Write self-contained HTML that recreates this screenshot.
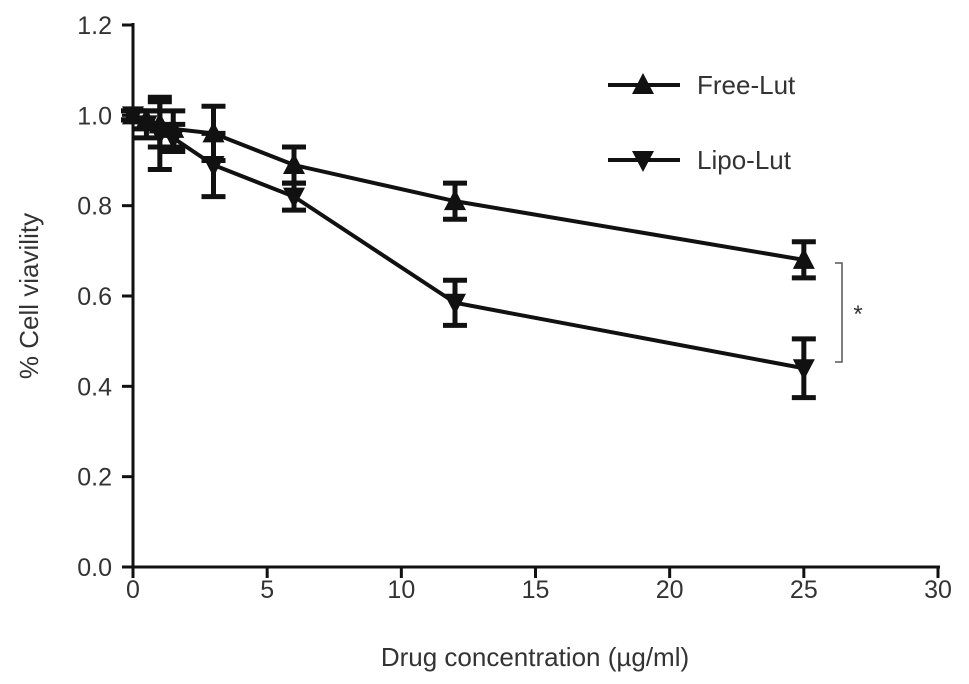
<!DOCTYPE html>
<html><head><meta charset="utf-8"><style>
body{margin:0;background:#fff}
svg{display:block}
text{font-family:"Liberation Sans",Arial,sans-serif;fill:#333}
</style></head><body>
<svg id="chart" width="969" height="684" xmlns="http://www.w3.org/2000/svg"></svg>
<script>
const xValues=[0,0.5,1,1.5,3,6,12,25];
const freeMean=[1.0,0.99,0.98,0.97,0.96,0.89,0.81,0.68];
const freeErr=[0.01,0.02,0.05,0.04,0.06,0.04,0.04,0.04];
const lipoMean=[1.0,0.98,0.96,0.95,0.89,0.82,0.585,0.44];
const lipoErr=[0.01,0.03,0.08,0.03,0.07,0.03,0.05,0.065];
const xTicks=[0,5,10,15,20,25,30];
const yTicks=[0,0.2,0.4,0.6,0.8,1.0,1.2];

const svg=document.getElementById('chart');
const NS='http://www.w3.org/2000/svg';
const X=v=>133+v*(938-133)/30;
const Y=v=>567-v*(567-25)/1.2;
function mk(tag,attrs,parent){const e=document.createElementNS(NS,tag);for(const k in attrs)e.setAttribute(k,attrs[k]);(parent||svg).appendChild(e);return e;}

const axes=mk('g',{});


const xa=mk('line',{x1:133,y1:567,x2:940,y2:567,stroke:'#111','stroke-width':3},axes);


const ya=mk('line',{x1:133,y1:23,x2:133,y2:569,stroke:'#111','stroke-width':3},axes);


xTicks.forEach(t=>{
  mk('line',{x1:X(t),y1:567,x2:X(t),y2:578,stroke:'#111','stroke-width':3},axes);
  const tx=mk('text',{x:X(t),y:598,'text-anchor':'middle','font-size':25},axes);
  tx.textContent=t;
  
  
});
yTicks.forEach(t=>{
  mk('line',{x1:122,y1:Y(t),x2:133,y2:Y(t),stroke:'#111','stroke-width':3},axes);
  const tx=mk('text',{x:112,y:Y(t)+9,'text-anchor':'end','font-size':25},axes);
  tx.textContent=t.toFixed(1);
  
  
});
const xt=mk('text',{x:535,y:666,'text-anchor':'middle','font-size':26});
xt.textContent='Drug concentration (µg/ml)';


const yt=mk('text',{x:0,y:0,'text-anchor':'middle','font-size':26,transform:'translate(38,296) rotate(-90)'});
yt.textContent='% Cell viavility';



function tri(cx,cy,up,g){
  const s=11;
  const pts=up?`${cx-s},${cy+9} ${cx+s},${cy+9} ${cx},${cy-12}`:`${cx-s},${cy-9} ${cx+s},${cy-9} ${cx},${cy+12}`;
  return mk('polygon',{points:pts,fill:'#111'},g);
}
function series(mean,err,up,name){
  const g=mk('g',{});
  
  
  const pl=mk('polyline',{points:xValues.map((x,i)=>X(x)+','+Y(mean[i])).join(' '),fill:'none',stroke:'#111','stroke-width':4},g);
  
  
  xValues.forEach((x,i)=>{
    const cx=X(x),t=Y(mean[i]+err[i]),b=Y(mean[i]-err[i]);
    const eb=mk('path',{d:`M${cx},${t}V${b}M${cx-12},${t}H${cx+12}M${cx-12},${b}H${cx+12}`,stroke:'#111','stroke-width':5,fill:'none'},g);
    
    
    const m=tri(cx,Y(mean[i]),up,g);
    
    
  });
}
series(freeMean,freeErr,true,'free-lut');
series(lipoMean,lipoErr,false,'lipo-lut');

function legend(y,up,label,name){
  const g=mk('g',{});
  
  
  mk('line',{x1:608,y1:y,x2:680,y2:y,stroke:'#111','stroke-width':4},g);
  tri(643,y,up,g);
  const t=mk('text',{x:697,y:y+9,'font-size':26},g);
  t.textContent=label;
}
legend(85,true,'Free-Lut','legend-entry-free-lut');
legend(160,false,'Lipo-Lut','legend-entry-lipo-lut');

const br=mk('path',{d:'M835,263H842V362H835',stroke:'#555','stroke-width':1.5,fill:'none'});


const st=mk('text',{x:858,y:322,'text-anchor':'middle','font-size':24});
st.textContent='*';


</script>
</body></html>
